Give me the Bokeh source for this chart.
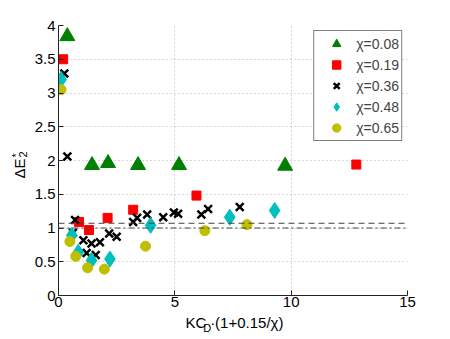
import math
from bokeh.plotting import figure
from bokeh.layouts import row, column
from bokeh.models import Range1d, FixedTicker, Span, Label, Legend, LegendItem
from bokeh.embed import file_html
from bokeh.resources import INLINE

# ---- data ----
labels = ["χ=0.08", "χ=0.19", "χ=0.36", "χ=0.48", "χ=0.65"]
x08 = [0.38, 1.44, 2.13, 3.42, 5.18, 9.74]
y08 = [3.84, 1.93, 1.96, 1.93, 1.93, 1.92]
x19 = [0.20, 0.88, 1.31, 2.11, 3.21, 5.93, 12.8]
y19 = [3.50, 1.09, 0.97, 1.15, 1.27, 1.48, 1.94]
x36 = [0.25, 0.38, 0.62, 0.71, 1.07, 1.21, 1.42, 1.60, 1.78, 2.18, 2.50,
       3.21, 3.38, 3.81, 4.50, 4.96, 5.14, 6.14, 6.43, 7.79]
y36 = [3.29, 2.06, 0.93, 1.12, 0.82, 0.63, 0.77, 0.60, 0.79, 0.92, 0.87,
       1.09, 1.15, 1.20, 1.16, 1.23, 1.21, 1.20, 1.28, 1.31]
x48 = [0.11, 0.57, 0.85, 1.42, 2.21, 3.96, 7.36, 9.29]
y48 = [3.20, 0.89, 0.64, 0.52, 0.54, 1.04, 1.16, 1.26]
x65 = [0.11, 0.49, 0.74, 1.25, 1.97, 3.74, 6.29, 8.10]
y65 = [3.05, 0.80, 0.58, 0.41, 0.39, 0.73, 0.96, 1.05]
ref_lines = [1.07, 1.0]
xticks = [0, 5, 10, 15]
yticks = [0, 0.5, 1, 1.5, 2, 2.5, 3, 3.5, 4]
ytick_labels = ["0", "0.5", "1", "1.5", "2", "2.5", "3", "3.5", "4"]

FONT = "Liberation Sans"

# ---- layout (page pixels) ----
YL_W = 28                      # strip for the y title
ML, MT, MB = 30, 25, 18        # main figure borders
FW, FH = 349, 270              # plot frame
MR = 33
PW, PH = ML + FW + MR, MT + FH + MB
XL_H = 21                      # strip for the x title

p = figure(width=PW, height=PH, output_backend="svg", toolbar_location=None,
           x_range=Range1d(0, 15), y_range=Range1d(0, 4),
           min_border_left=ML, min_border_right=MR,
           min_border_top=MT, min_border_bottom=MB)
p.outline_line_color = None

for ax, ticks in ((p.xaxis, xticks), (p.yaxis, yticks)):
    ax.ticker = FixedTicker(ticks=ticks)
    ax.major_tick_in = 5
    ax.major_tick_out = 0
    ax.minor_tick_line_color = None
    ax.axis_line_color = "#222222"
    ax.major_tick_line_color = "#222222"
    ax.major_label_text_font = FONT
    ax.major_label_text_font_size = "15px"
    ax.major_label_text_color = "black"
p.yaxis.major_label_standoff = 3
p.xaxis.major_label_standoff = 1
p.yaxis.major_label_overrides = {t: s for t, s in zip(yticks, ytick_labels)}
p.xaxis.major_label_overrides = {t: str(t) for t in xticks}

p.xgrid.ticker = FixedTicker(ticks=xticks)
p.ygrid.ticker = FixedTicker(ticks=yticks)
for g in (p.xgrid, p.ygrid):
    g.grid_line_color = "#b0b0b0"
    g.grid_line_dash = "1 3"
    g.grid_line_width = 1

p.add_layout(Span(location=ref_lines[0], dimension="width", line_color="#444444",
                  line_dash="6 4", line_width=1))
p.add_layout(Span(location=ref_lines[1], dimension="width", line_color="#444444",
                  line_dash="6 3 2 3", line_width=1))

r1 = p.scatter(x08, y08, marker="triangle", size=15, fill_color="#008000", line_color="#008000")
r2 = p.scatter(x19, y19, marker="square", size=9, fill_color="#ff0000", line_color="#ff0000")
r3 = p.scatter(x36, y36, marker="x", size=11, line_color="black", line_width=2.5)
r4 = p.scatter(x48, y48, marker="diamond", size=16, fill_color="#00bfbf", line_color="#00bfbf")
r5 = p.scatter(x65, y65, marker="circle", size=10, fill_color="#bfbf00", line_color="#bfbf00")

legend = Legend(items=[LegendItem(label=l, renderers=[r]) for l, r in
                       zip(labels, [r1, r2, r3, r4, r5])],
                location="top_right", margin=5, padding=2, spacing=0,
                glyph_width=40, glyph_height=21, label_height=21, label_standoff=0,
                label_text_font=FONT, label_text_font_size="14px",
                border_line_color="black", border_line_width=1,
                background_fill_color="white", background_fill_alpha=1.0)
p.add_layout(legend)


def strip(w, h):
    f = figure(width=w, height=h, output_backend="svg", toolbar_location=None,
               x_range=Range1d(0, w), y_range=Range1d(h, 0),
               x_axis_type=None, y_axis_type=None,
               min_border=0, min_border_left=0, min_border_right=0,
               min_border_top=0, min_border_bottom=0)
    f.outline_line_color = None
    f.grid.visible = False
    return f


def lab(f, ox, oy, txt, px, py, size, angle=0.0):
    f.add_layout(Label(x=px - ox, y=py - oy, text=txt, angle=angle,
                       text_font=FONT, text_font_size=size, text_align="left",
                       text_baseline="alphabetic", text_color="black"))


# x title strip: KC_D·(1+0.15/χ)
xl = strip(PW, XL_H)
XO, YO = YL_W, PH
lab(xl, XO, YO, "KC", 178, 322, "15px")
lab(xl, XO, YO, "D", 199, 327, "11px")
lab(xl, XO, YO, "·(1+0.15/χ)", 207, 322, "15px")

# y title strip: ΔE*_2 (rotated)
yl = strip(YL_W, PH)
lab(yl, 0, 0, "ΔE", 19, 178, "15px", angle=math.pi / 2)
lab(yl, 0, 0, "2", 22, 157, "11px", angle=math.pi / 2)
lab(yl, 0, 0, "*", 15, 157, "11px", angle=math.pi / 2)

layout = row(yl, column(p, xl, spacing=0), spacing=0)
open("out.html", "w").write(file_html(layout, INLINE))
